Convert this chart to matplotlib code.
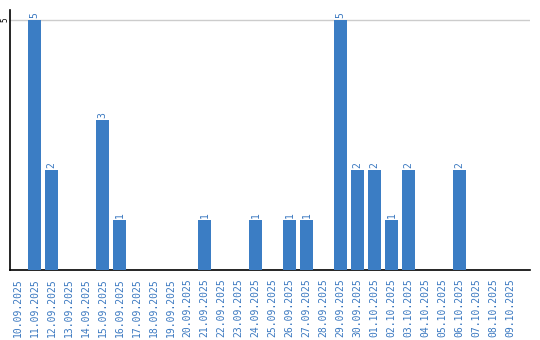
import matplotlib
matplotlib.use("Agg")
import matplotlib.pyplot as plt

dates = ["10.09.2025", "11.09.2025", "12.09.2025", "13.09.2025", "14.09.2025",
         "15.09.2025", "16.09.2025", "17.09.2025", "18.09.2025", "19.09.2025",
         "20.09.2025", "21.09.2025", "22.09.2025", "23.09.2025", "24.09.2025",
         "25.09.2025", "26.09.2025", "27.09.2025", "28.09.2025", "29.09.2025",
         "30.09.2025", "01.10.2025", "02.10.2025", "03.10.2025", "04.10.2025",
         "05.10.2025", "06.10.2025", "07.10.2025", "08.10.2025", "09.10.2025"]
counts = [0, 5, 2, 0, 0, 3, 1, 0, 0, 0,
          0, 1, 0, 0, 1, 0, 1, 1, 0, 5,
          2, 2, 1, 2, 0, 0, 2, 0, 0, 0]

BAR = "#3b7dc4"
LBL = "#3a78c0"

fig = plt.figure(figsize=(5.4, 3.4), dpi=100)
ax = fig.add_axes([10 / 540, 70 / 340, 520 / 540, 260 / 340])

x = list(range(len(dates)))
ax.bar(x, counts, width=0.8, color=BAR, zorder=3)

for xi, v in zip(x, counts):
    if v > 0:
        ax.text(xi, v + 0.04, str(v), rotation=90, ha="center", va="bottom",
                fontsize=7, color=LBL, fontfamily="DejaVu Sans Mono", zorder=4)

ax.set_xlim(-0.44, 30.15)
ax.set_ylim(0, 5.2)
ax.axhline(5, color="#cccccc", lw=1, zorder=1)

ax.set_xticks(x)
ax.set_xticklabels(dates, rotation=90, fontsize=7, color=LBL,
                   fontfamily="DejaVu Sans Mono")
ax.tick_params(axis="x", length=0, pad=6)
ax.set_yticks([5])
ax.set_yticklabels(["5"], rotation=90, fontsize=5.5, va="center",
                   fontfamily="DejaVu Sans Mono")
ax.tick_params(axis="y", length=0, pad=0.5)

for s in ["top", "right"]:
    ax.spines[s].set_visible(False)
ax.spines["left"].set_linewidth(1.2)
ax.spines["bottom"].set_linewidth(1.2)

fig.savefig("out.png", dpi=100)
